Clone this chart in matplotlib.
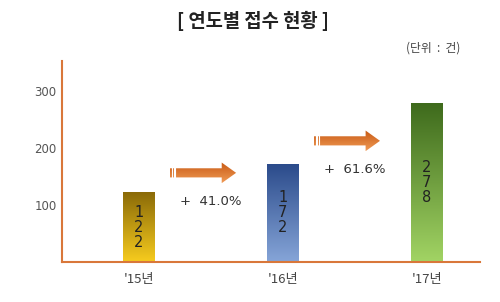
import matplotlib
matplotlib.use("Agg")

import matplotlib.pyplot as plt
import numpy as np
from matplotlib.colors import LinearSegmentedColormap
from matplotlib.patches import FancyArrow, Rectangle

plt.rcParams["font.family"] = ["Noto Sans CJK KR", "DejaVu Sans"]

# data
years = ["'15년", "'16년", "'17년"]
counts = [122, 172, 278]
growth = ["+  41.0%", "+  61.6%"]
yticks = [100, 200, 300]

# gradient colours per bar (top, bottom)
bar_grad = [("#8a6a08", "#f7cc1e"),
            ("#2a4a8a", "#86a5d8"),
            ("#3e6a1c", "#a2d464")]
axis_col = "#d9773a"

fig = plt.figure(figsize=(5.0, 3.02), dpi=100)
ax = fig.add_axes([0.124, 0.1325, 0.836, 0.666])
ax.set_xlim(-0.535, 2.37)
ax.set_ylim(0, 352)

x = np.arange(len(counts))
width = 0.22
grad = np.linspace(0, 1, 256).reshape(-1, 1)

for xi, v, (top, bot) in zip(x, counts, bar_grad):
    rect = Rectangle((xi - width / 2, 0), width, v, facecolor="none",
                     edgecolor="none")
    ax.add_patch(rect)
    cmap = LinearSegmentedColormap.from_list("g", [bot, top])
    im = ax.imshow(grad, extent=(xi - width / 2, xi + width / 2, 0, v),
                   origin="lower", cmap=cmap, aspect="auto", zorder=2)
    im.set_clip_path(rect)
    # value written vertically, one digit per line, centred in the bar
    ax.text(xi, v / 2, "\n".join(str(v)), ha="center", va="center",
            fontsize=10.5, color="#222222", linespacing=1.0, zorder=3,
            family="DejaVu Sans")

# growth arrows between bars
arrow_cmap = LinearSegmentedColormap.from_list("o", ["#f09a55", "#c85a14"])
arrow_y = [156, 212]
for i, (gtxt, ay) in enumerate(zip(growth, arrow_y)):
    x0 = i + 0.215
    length = 0.46
    arr = FancyArrow(x0, ay, length, 0, width=16, head_width=36,
                     head_length=0.1, length_includes_head=True,
                     facecolor="none", edgecolor="none")
    ax.add_patch(arr)
    im = ax.imshow(grad, extent=(x0, x0 + length, ay - 18, ay + 18),
                   origin="lower", cmap=arrow_cmap, aspect="auto", zorder=2)
    im.set_clip_path(arr)
    for k in range(3):
        ax.plot([x0 + 0.012 + k * 0.013] * 2, [ay - 8, ay + 8],
                color="white", lw=0.8, zorder=3)
    ax.text(x0 + 0.07, ay - 50, gtxt, ha="left", va="center",
            fontsize=9.5, color="#333333", family="DejaVu Sans")

ax.set_xticks(x)
ax.set_xticklabels(years, fontsize=9.5, color="#444444")
ax.set_yticks(yticks)
ax.set_yticklabels([str(t) for t in yticks], fontsize=8.5, color="#555555",
                   family="DejaVu Sans")
ax.tick_params(axis="x", length=0, pad=8)
ax.tick_params(axis="y", length=0, pad=4)

for s in ["top", "right"]:
    ax.spines[s].set_visible(False)
for s in ["left", "bottom"]:
    ax.spines[s].set_color(axis_col)
    ax.spines[s].set_linewidth(1.5)

fig.text(0.506, 0.932, "[ 연도별 접수 현황 ]", ha="center", va="center",
         fontsize=13.5, fontweight="bold", color="#222222")
fig.text(0.92, 0.84, "(단위  :  건)", ha="right", va="center",
         fontsize=8.5, color="#444444")

fig.savefig("out.png", dpi=100)
